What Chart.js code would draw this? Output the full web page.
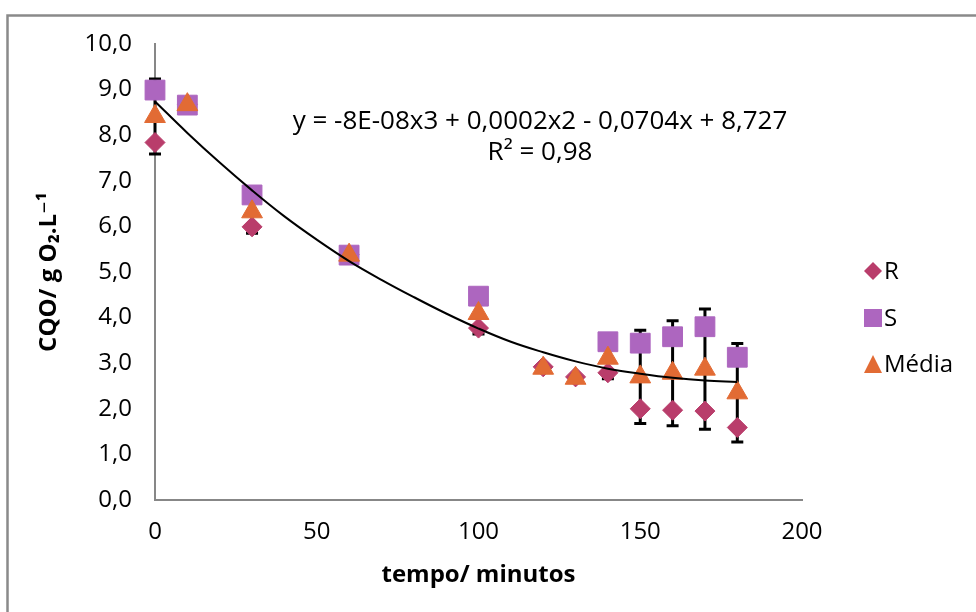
<!DOCTYPE html>
<html lang="pt">
<head>
    <meta charset="UTF-8">
    <meta name="viewport" content="width=device-width, initial-scale=1.0">
    <script src="https://cdn.jsdelivr.net/npm/chart.js@4.4.6/dist/chart.umd.min.js"></script>
    <title>CQO</title>
    <style>
        html, body { margin: 0; padding: 0; background: #fff; overflow: hidden; }
        #wrap { width: 976px; height: 612px; position: relative; }
    </style>
</head>
<body>
    <div id="wrap"><canvas id="cqo-chart"></canvas></div>

    <script>
        // data
        const tempo = [0, 10, 30, 60, 100, 120, 130, 140, 150, 160, 170, 180]
        const cqoR = [7.84, 8.68, 5.99, 5.38, 3.77, 2.92, 2.70, 2.79, 2.00, 1.97, 1.95, 1.59]
        const cqoS = [8.99, 8.66, 6.69, 5.37, 4.47, null, null, 3.47, 3.44, 3.58, 3.80, 3.13]
        const cqoMedia = [8.41, 8.67, 6.32, 5.37, 4.09, 2.89, 2.67, 3.11, 2.70, 2.78, 2.87, 2.35]
        const erroMedia = [0.82, 0.05, 0.47, 0.05, 0.45, 0.05, 0.05, 0.45, 1.02, 1.15, 1.32, 1.08]

        // polynomial trendline as drawn
        const trendT = [0, 10, 20, 30, 40, 50, 60, 70, 80, 90, 100, 110, 120, 130, 140, 150, 160, 170, 180]
        const trendY = [8.74, 8.05, 7.40, 6.79, 6.22, 5.71, 5.24, 4.83, 4.45, 4.09, 3.76, 3.47, 3.24, 3.04, 2.88, 2.77, 2.68, 2.62, 2.59]

        const seriesNames = ['R', 'S', 'Média']
        const colors = ['#b93d6b', '#ad66bf', '#e26b34']
        const equation = ['y = -8E-08x3 + 0,0002x2 - 0,0704x + 8,727', 'R² = 0,98']

        const FONT = '"Open Sans", "DejaVu Sans", sans-serif'

        const toPts = (xs, ys) => xs.map((x, i) => ({ x: x, y: ys[i] }))

        function drawMarker(ctx, style, x, y, size, color) {
            ctx.save()
            ctx.fillStyle = color
            ctx.beginPath()
            if (style == 'diamond') {
                ctx.moveTo(x, y - size / 2); ctx.lineTo(x + size / 2, y)
                ctx.lineTo(x, y + size / 2); ctx.lineTo(x - size / 2, y)
            } else if (style == 'square') {
                ctx.rect(x - size / 2, y - size / 2, size, size)
            } else {
                ctx.moveTo(x, y - size / 2); ctx.lineTo(x + size / 2, y + size / 2)
                ctx.lineTo(x - size / 2, y + size / 2)
            }
            ctx.closePath()
            ctx.fill()
            ctx.restore()
        }

        const extras = {
            id: 'extras',
            beforeDraw(chart) {
                const ctx = chart.ctx
                ctx.save()
                ctx.strokeStyle = '#8a8a8a'
                ctx.lineWidth = 2.5
                ctx.strokeRect(7.5, 15.5, 1200, 900)
                ctx.restore()
            },
            beforeDatasetsDraw(chart) {
                // error bars on Média, behind the markers
                const ctx = chart.ctx
                const xs = chart.scales.x, ys = chart.scales.y
                ctx.save()
                ctx.strokeStyle = '#000'
                ctx.lineWidth = 3
                tempo.forEach((t, i) => {
                    const e = erroMedia[i]
                    const px = xs.getPixelForValue(t)
                    const top = ys.getPixelForValue(cqoMedia[i] + e)
                    const bot = ys.getPixelForValue(cqoMedia[i] - e)
                    ctx.beginPath()
                    ctx.moveTo(px, top); ctx.lineTo(px, bot)
                    ctx.moveTo(px - 6, top); ctx.lineTo(px + 6, top)
                    ctx.moveTo(px - 6, bot); ctx.lineTo(px + 6, bot)
                    ctx.stroke()
                })
                ctx.restore()
            },
            afterDraw(chart) {
                const ctx = chart.ctx
                ctx.save()
                ctx.fillStyle = '#000'
                ctx.font = '26px ' + FONT
                ctx.textAlign = 'center'
                ctx.textBaseline = 'middle'
                ctx.fillText(equation[0], 540, 122)
                ctx.fillText(equation[1], 540, 153)

                // legend
                ctx.font = '24px ' + FONT
                const styles = ['diamond', 'square', 'triangle']
                const ly = [271, 318, 364]
                ctx.textAlign = 'left'
                seriesNames.forEach((n, i) => {
                    drawMarker(ctx, styles[i], 873, ly[i], 18, colors[i])
                    ctx.fillStyle = '#000'
                    ctx.fillText(n, 884, ly[i] + 1)
                })
                ctx.restore()
            }
        }

        const ctx = document.getElementById('cqo-chart').getContext('2d')

        new Chart(ctx, {
            type: 'scatter',
            data: {
                datasets: [
                    {
                        label: 'trend',
                        type: 'line',
                        data: toPts(trendT, trendY),
                        borderColor: '#000',
                        borderWidth: 2,
                        pointRadius: 0,
                        tension: 0.4,
                        clip: false,
                        order: 0
                    },
                    {
                        label: seriesNames[0],
                        data: toPts(tempo, cqoR),
                        pointStyle: 'rectRot',
                        pointRadius: 10,
                        backgroundColor: colors[0],
                        borderColor: colors[0],
                        borderWidth: 1,
                        clip: false,
                        order: 3
                    },
                    {
                        label: seriesNames[1],
                        data: toPts(tempo, cqoS),
                        pointStyle: 'rect',
                        pointRadius: 14,
                        backgroundColor: colors[1],
                        borderColor: colors[1],
                        borderWidth: 1,
                        clip: false,
                        order: 2
                    },
                    {
                        label: seriesNames[2],
                        data: toPts(tempo, cqoMedia),
                        pointStyle: 'triangle',
                        pointRadius: 12,
                        backgroundColor: colors[2],
                        borderColor: colors[2],
                        borderWidth: 1,
                        clip: false,
                        order: 1
                    }
                ]
            },
            options: {
                responsive: true,
                maintainAspectRatio: false,
                animation: false,
                events: [],
                layout: { padding: { left: 0, top: 44, right: 174, bottom: 0 } },
                scales: {
                    x: {
                        type: 'linear',
                        min: 0,
                        max: 200,
                        ticks: { stepSize: 50, padding: 18, color: '#000', font: { family: FONT, size: 24 } },
                        grid: { display: false, drawTicks: false },
                        border: { color: '#878787', width: 2 },
                        title: {
                            display: true,
                            text: 'tempo/ minutos',
                            color: '#000',
                            font: { family: FONT, size: 24, weight: 'bold' },
                            padding: { top: 0, bottom: 22 }
                        },
                        afterFit: s => { s.height = 112 }
                    },
                    y: {
                        min: 0,
                        max: 10,
                        ticks: {
                            stepSize: 1,
                            padding: 23,
                            color: '#000',
                            font: { family: FONT, size: 24 },
                            callback: v => v.toFixed(1).replace('.', ',')
                        },
                        grid: { display: false, drawTicks: false },
                        border: { color: '#878787', width: 2 },
                        title: {
                            display: true,
                            text: 'CQO/ g O₂.L⁻¹',
                            color: '#000',
                            font: { family: FONT, size: 24, weight: 'bold' },
                            padding: { top: 35, bottom: 0 }
                        },
                        afterFit: s => { s.width = 155 }
                    }
                },
                plugins: {
                    legend: { display: false },
                    tooltip: { enabled: false }
                }
            },
            plugins: [extras]
        })
    </script>
</body>
</html>
